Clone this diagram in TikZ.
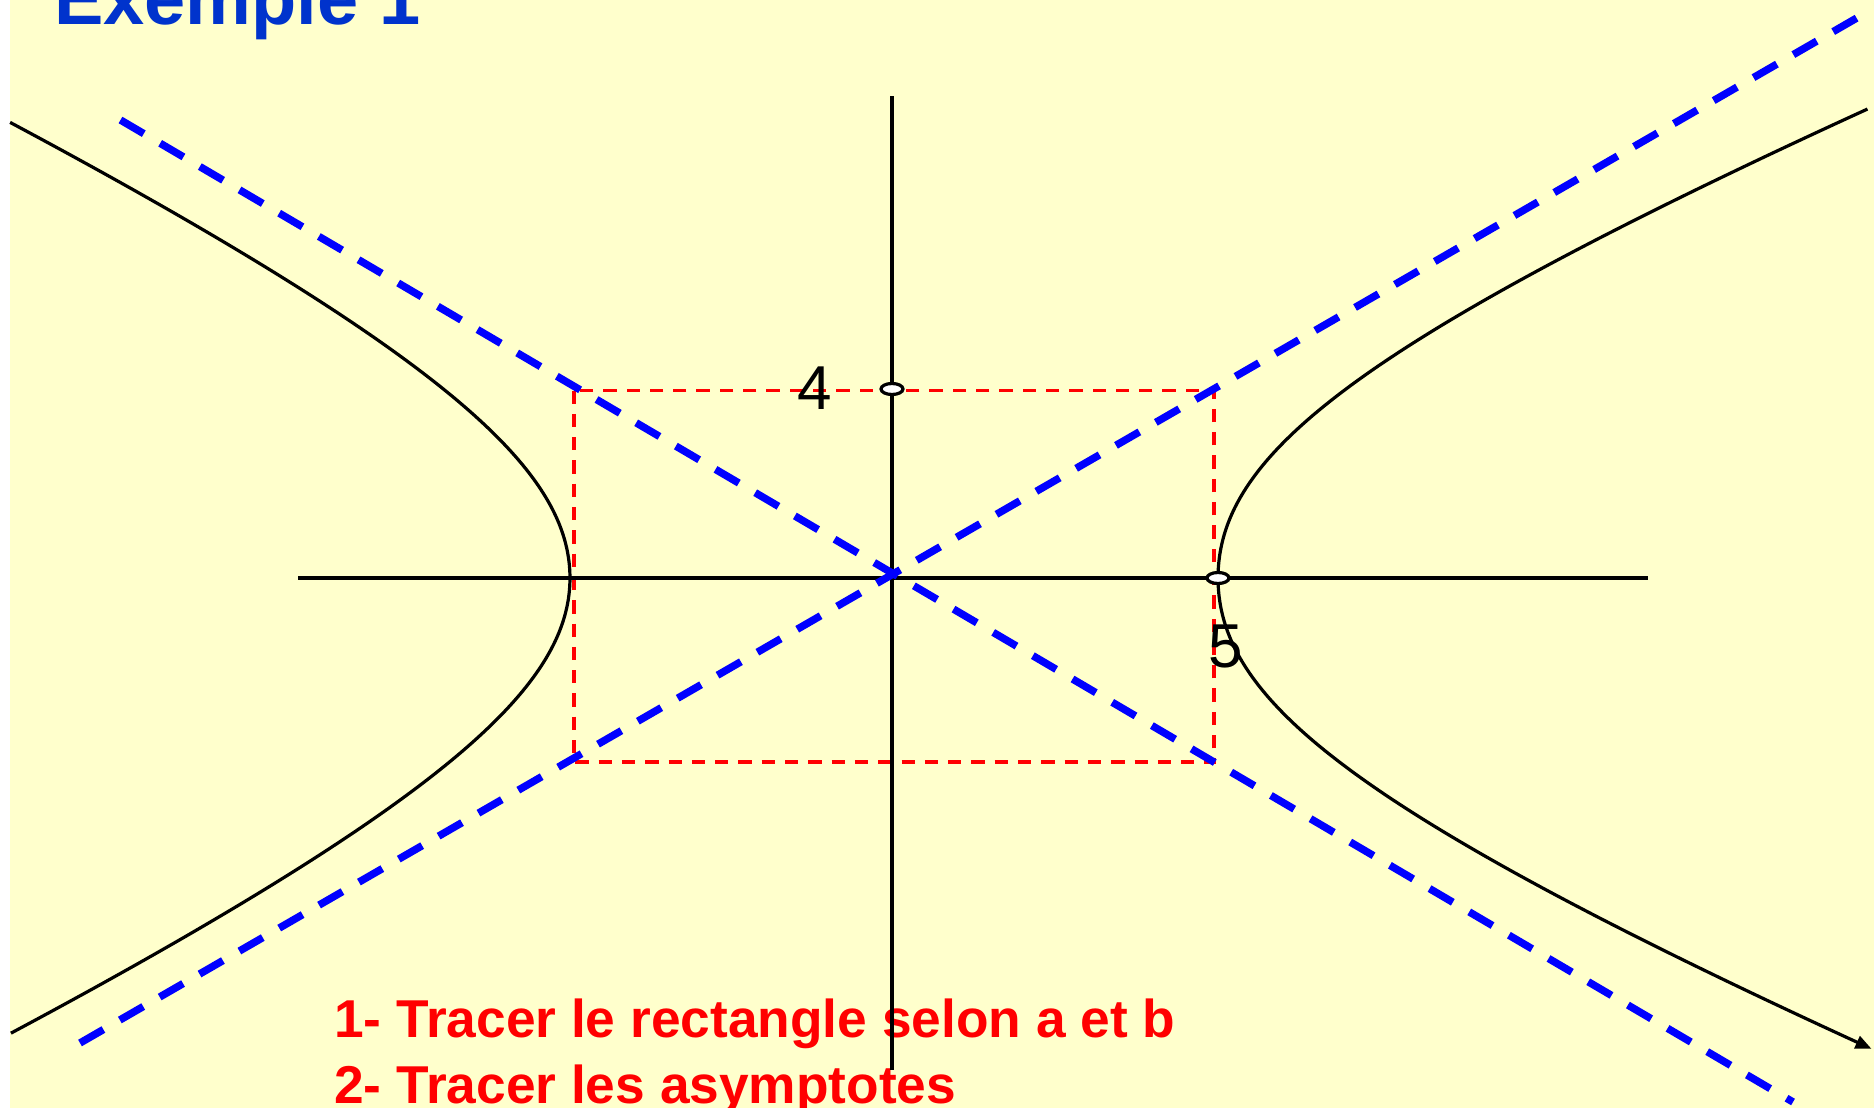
\documentclass[tikz,border=0pt]{standalone}
\usepackage{fontspec}
\setmainfont{Liberation Sans}
\usetikzlibrary{arrows.meta,shapes.geometric}
\definecolor{bgyellow}{RGB}{255,255,204}
\definecolor{titleblue}{RGB}{0,51,204}
\definecolor{asyblue}{RGB}{0,0,255}
\definecolor{rectred}{RGB}{255,0,0}
\tikzset{
  axisline/.style={line width=4.2pt, black},
  branch/.style={line width=3.2pt, black},
  asym/.style={line width=7.5pt, asyblue, dash pattern=on 27pt off 19pt},
  rectline/.style={line width=3.2pt, rectred, dash pattern=on 13.3pt off 10pt},
  dotmark/.style={draw, ellipse, fill=white, line width=3.2pt, inner sep=0pt, minimum width=22pt, minimum height=11pt},
  steptext/.style={anchor=base west, inner sep=0pt, text=rectred, font=\fontsize{53.3}{53.3}\selectfont\bfseries},
  numlabel/.style={inner sep=0pt, font=\fontsize{62}{62}\selectfont}
}
\begin{document}
\begin{tikzpicture}[x=1pt,y=-1pt]
\useasboundingbox (0,0) rectangle (1874,1108);
\clip (0,0) rectangle (1874,1108);
\fill[white] (0,0) rectangle (1874,1108);
\fill[bgyellow] (10,0) rectangle (1874,1108);

% title and instructions
\node[anchor=base west, inner sep=0pt, text=titleblue, font=\fontsize{74}{74}\selectfont\bfseries] (title) at (54,25) {Exemple 1};
\node[steptext] (s1) at (334,1037) {1- Tracer le rectangle selon a et b};
\node[steptext] (s2) at (334,1103) {2- Tracer les asymptotes};

% rectangle a, b
\coordinate (r1) at (574,390.5);
\coordinate (r2) at (1214,762);
\draw[rectline] (r1) rectangle (r2);

% axes
\coordinate (O) at (892,578);
\coordinate (xl) at (298,578);
\coordinate (xr) at (1648,578);
\coordinate (yt) at (892,96);
\coordinate (yb) at (892,1070);
\draw[axisline] (xl) -- (xr);
\draw[axisline] (yt) -- (yb);

% asymptotes
\coordinate (a1s) at (80,1043);
\coordinate (a1e) at (1862,15);
\coordinate (a2s) at (120.5,120);
\coordinate (a2e) at (1793,1102);
\draw[asym] (a1s) -- (a1e);
\draw[asym] (a2s) -- (a2e);

% hyperbola branches
\draw[branch] plot[domain=-1.6656:1.6656, samples=120, smooth, variable=\t]
  ({892-322*cosh(\t)}, {578+(212-20*abs(\t))*sinh(\t)});
\draw[branch, -{Triangle[length=16pt,width=13pt]}] plot[domain=-1.76:1.766, samples=120, smooth, variable=\t]
  ({892+326*cosh(\t)}, {578+(230-45*abs(\t)+5*\t*\t)*sinh(\t)});

% marked points
\node[dotmark] (p4) at (892,389) {};
\node[dotmark] (p5) at (1218,578) {};

% labels
\node[numlabel] (l4) at (815,388) {4};
\node[numlabel] (l5) at (1226,646) {5};
\end{tikzpicture}
\end{document}
